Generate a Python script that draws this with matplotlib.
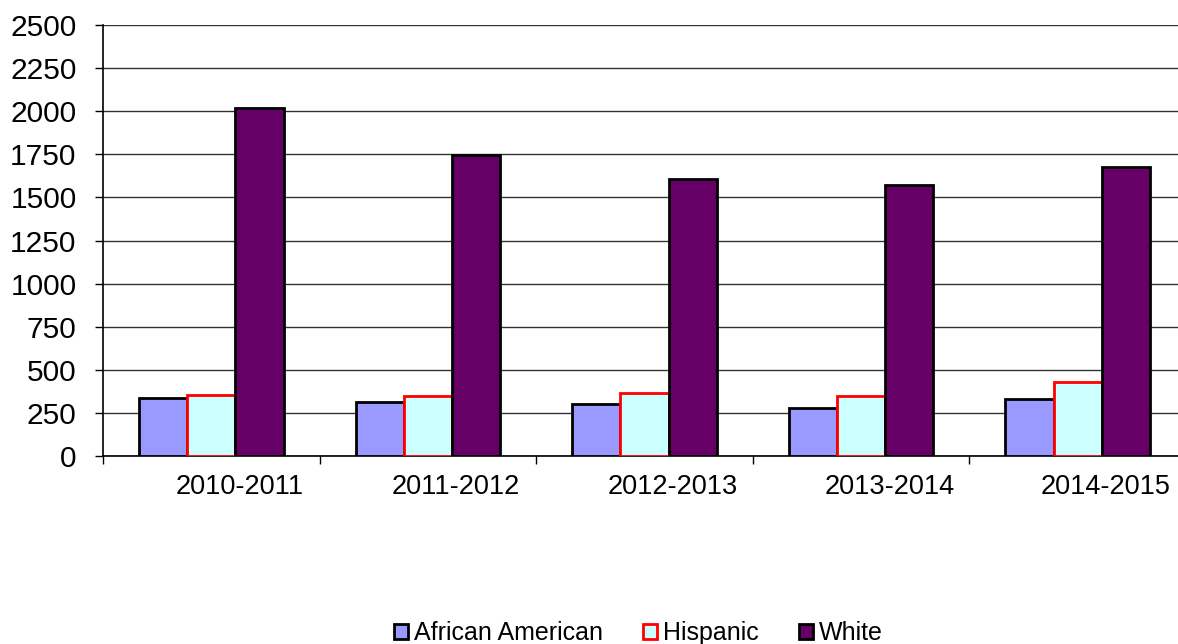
import numpy as np
import matplotlib
matplotlib.use("Agg")
import matplotlib.pyplot as plt
from matplotlib.patches import Patch

plt.rcParams['font.family'] = ['Liberation Sans', 'DejaVu Sans']

years = ['2010-2011', '2011-2012', '2012-2013', '2013-2014', '2014-2015']
african_american = [335, 315, 300, 277, 329]
hispanic = [352, 348, 363, 346, 427]
white = [2017, 1745, 1604, 1571, 1679]

fig = plt.figure(figsize=(11.78, 6.44), dpi=100)
ax = fig.add_axes([103 / 1178, 1 - 456 / 644, 1083 / 1178, 431 / 644])

x = np.arange(len(years))
w = 0.2225
ax.bar(x - w, african_american, w, color='#9999FF', edgecolor='black', linewidth=2, zorder=3)
ax.bar(x, hispanic, w, color='#CCFFFF', edgecolor='#FF0000', linewidth=2, zorder=3)
ax.bar(x + w, white, w, color='#660066', edgecolor='black', linewidth=2, zorder=4)

ax.set_ylim(0, 2500)
ax.set_yticks(np.arange(0, 2501, 250))
ax.set_xlim(-0.5, len(years) - 0.5)
ax.yaxis.grid(True, color='#333333', linewidth=1.0, zorder=0)
ax.set_axisbelow(True)

# category boundary tick marks, labels set a bit right of centre like the original
ax.set_xticks(np.arange(len(years) + 1) - 0.5)
ax.set_xticklabels([])
ax.set_xticks(x + 0.13, minor=True)
ax.set_xticklabels(years, minor=True)
ax.tick_params(axis='x', which='major', direction='out', length=6, width=1, color='black')
ax.tick_params(axis='x', which='minor', length=0, pad=13, labelsize=19.5)
ax.tick_params(axis='y', direction='out', length=6, width=1, pad=13, labelsize=21.5)

for s in ['top', 'right']:
    ax.spines[s].set_visible(False)
for s in ['left', 'bottom']:
    ax.spines[s].set_color('black')
    ax.spines[s].set_linewidth(1.2)

handles = [
    Patch(facecolor='#9999FF', edgecolor='black', linewidth=2, label='African American'),
    Patch(facecolor='#CCFFFF', edgecolor='#FF0000', linewidth=2, label='Hispanic'),
    Patch(facecolor='#660066', edgecolor='black', linewidth=2, label='White'),
]
fig.legend(handles=handles, loc='center', bbox_to_anchor=(638.5 / 1178, 1 - 633 / 644),
           ncol=3, frameon=False, fontsize=18, handlelength=0.55, handleheight=0.55,
           handletextpad=0.25, columnspacing=1.6, borderpad=0)

fig.savefig('out.png', dpi=100)
